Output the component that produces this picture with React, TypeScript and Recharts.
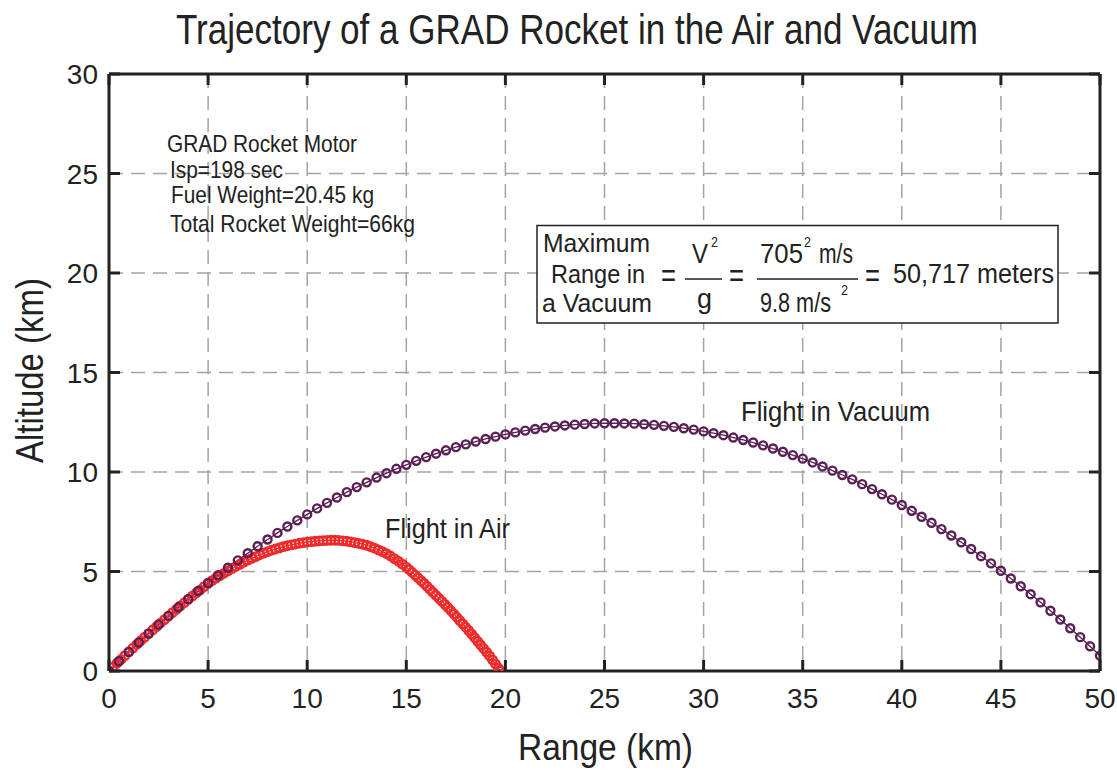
import React from 'react';
import { LineChart, Line, XAxis, YAxis, CartesianGrid } from 'recharts';

const xTicks = [0, 5, 10, 15, 20, 25, 30, 35, 40, 45, 50];
const yTicks = [0, 5, 10, 15, 20, 25, 30];

const vacX = [
  0, 0.5, 1, 1.5, 2, 2.5, 3, 3.5, 4, 4.5, 5, 5.5, 6, 6.5, 7, 7.5, 8, 8.5, 9, 9.5,
  10, 10.5, 11, 11.5, 12, 12.5, 13, 13.5, 14, 14.5, 15, 15.5, 16, 16.5, 17, 17.5, 18, 18.5, 19, 19.5,
  20, 20.5, 21, 21.5, 22, 22.5, 23, 23.5, 24, 24.5, 25, 25.5, 26, 26.5, 27, 27.5, 28, 28.5, 29, 29.5,
  30, 30.5, 31, 31.5, 32, 32.5, 33, 33.5, 34, 34.5, 35, 35.5, 36, 36.5, 37, 37.5, 38, 38.5, 39, 39.5,
  40, 40.5, 41, 41.5, 42, 42.5, 43, 43.5, 44, 44.5, 45, 45.5, 46, 46.5, 47, 47.5, 48, 48.5, 49, 49.5, 50,
];
const vacY = [
  0, 0.49, 0.96, 1.43, 1.88, 2.33, 2.77, 3.2, 3.61, 4.02, 4.42, 4.81, 5.19, 5.56, 5.92, 6.27, 6.61, 6.94, 7.26, 7.57,
  7.87, 8.17, 8.45, 8.72, 8.99, 9.24, 9.48, 9.72, 9.94, 10.16, 10.36, 10.56, 10.75, 10.92, 11.09, 11.25, 11.39, 11.53, 11.66, 11.78,
  11.89, 11.99, 12.08, 12.16, 12.23, 12.29, 12.34, 12.38, 12.41, 12.44, 12.45, 12.45, 12.44, 12.43, 12.4, 12.37, 12.32, 12.27, 12.2, 12.13,
  12.04, 11.95, 11.85, 11.73, 11.61, 11.48, 11.34, 11.18, 11.02, 10.85, 10.67, 10.48, 10.28, 10.07, 9.85, 9.63, 9.39, 9.14, 8.88, 8.61,
  8.34, 8.05, 7.75, 7.45, 7.13, 6.81, 6.47, 6.13, 5.77, 5.41, 5.04, 4.65, 4.26, 3.86, 3.45, 3.03, 2.59, 2.15, 1.7, 1.24, 0.77,
];

const airX = [
  0, 0.2, 0.4, 0.6, 0.8, 1, 1.2, 1.4, 1.6, 1.8, 2, 2.2, 2.4, 2.6, 2.8, 3, 3.2, 3.4, 3.6, 3.8,
  4, 4.2, 4.4, 4.6, 4.8, 5, 5.2, 5.4, 5.6, 5.8, 6, 6.2, 6.4, 6.6, 6.8, 7, 7.2, 7.4, 7.6, 7.8,
  8, 8.2, 8.4, 8.6, 8.8, 9, 9.2, 9.4, 9.6, 9.8, 10, 10.2, 10.4, 10.6, 10.8, 11, 11.2, 11.4, 11.6, 11.8,
  12, 12.2, 12.4, 12.6, 12.8, 13, 13.2, 13.4, 13.6, 13.8, 14, 14.2, 14.4, 14.6, 14.8, 15,
  15.15, 15.3, 15.45, 15.6, 15.75, 15.9, 16.05, 16.2, 16.35, 16.5, 16.65, 16.8, 16.95, 17.1, 17.25, 17.4,
  17.55, 17.7, 17.85, 18, 18.15, 18.3, 18.45, 18.6, 18.75, 18.9, 19.05, 19.2, 19.35, 19.5, 19.65, 19.75,
];
const airY = [
  0, 0.19, 0.39, 0.58, 0.77, 0.96, 1.15, 1.33, 1.52, 1.7, 1.88, 2.06, 2.23, 2.41, 2.58, 2.76, 2.93, 3.1, 3.27, 3.43,
  3.6, 3.76, 3.92, 4.07, 4.24, 4.4, 4.54, 4.67, 4.79, 4.91, 5.03, 5.14, 5.25, 5.36, 5.47, 5.57, 5.66, 5.75, 5.84, 5.92,
  6.0, 6.07, 6.13, 6.19, 6.25, 6.3, 6.34, 6.38, 6.42, 6.45, 6.48, 6.5, 6.52, 6.54, 6.55, 6.56, 6.57, 6.57, 6.56, 6.54,
  6.52, 6.49, 6.45, 6.41, 6.37, 6.32, 6.25, 6.17, 6.09, 6.0, 5.9, 5.78, 5.65, 5.52, 5.37, 5.22,
  5.09, 4.95, 4.82, 4.68, 4.54, 4.4, 4.25, 4.1, 3.95, 3.8, 3.65, 3.5, 3.35, 3.19, 3.03, 2.87,
  2.7, 2.53, 2.37, 2.2, 2.03, 1.85, 1.67, 1.49, 1.31, 1.13, 0.95, 0.76, 0.56, 0.36, 0.15, 0,
];

const vacData = vacX.map((x, i) => ({ x, y: vacY[i] }));
const airData = airX.map((x, i) => ({ x, y: airY[i] }));

const FONT = '"Liberation Sans Narrow", "Liberation Sans", Arial, sans-serif';
const TICKFONT = '"Liberation Sans Narrow", "Liberation Sans", Arial, sans-serif';
const INK = '#222';
const VAC = '#5a1f55';
const AIR = '#ee2b2b';

const BottomTick = (p: any) => (
  <g>
    <line x1={p.x} y1={p.y} x2={p.x} y2={p.y - 11} stroke={INK} strokeWidth={3} />
    <text x={p.x} y={p.y + 37} textAnchor="middle" fontSize={28} fontFamily={TICKFONT} fill={INK}>
      {p.payload.value}
    </text>
  </g>
);
const TopTick = (p: any) => (
  <line x1={p.x} y1={p.y} x2={p.x} y2={p.y + 11} stroke={INK} strokeWidth={3} />
);
const LeftTick = (p: any) => (
  <g>
    <line x1={p.x} y1={p.y} x2={p.x + 11} y2={p.y} stroke={INK} strokeWidth={3} />
    <text x={p.x - 11} y={p.y + 10} textAnchor="end" fontSize={28} fontFamily={TICKFONT} fill={INK}>
      {p.payload.value}
    </text>
  </g>
);
const RightTick = (p: any) => (
  <line x1={p.x} y1={p.y} x2={p.x - 11} y2={p.y} stroke={INK} strokeWidth={3} />
);

const T = ({ x, y, w, size, anchor = 'start', children }: any) => (
  <text
    x={x}
    y={y}
    fontSize={size}
    fontFamily={FONT}
    fill={INK}
    textAnchor={anchor}
    textLength={w}
    lengthAdjust="spacingAndGlyphs"
  >
    {children}
  </text>
);

export default function App() {
  return (
    <div style={{ position: 'absolute', left: 0, top: 0, width: 1117, height: 771, background: '#fff' }}>
      <LineChart
        width={1117}
        height={771}
        margin={{ top: 64, right: 7, bottom: 40, left: 49 }}
        style={{ position: 'absolute', left: 0, top: 0 }}
      >
        <CartesianGrid
          xAxisId="b"
          yAxisId="l"
          stroke="#a3a3a3"
          strokeWidth={1.5}
          strokeDasharray="14 8"
          horizontalValues={yTicks}
          verticalValues={xTicks}
        />
        <XAxis
          xAxisId="b"
          dataKey="x"
          type="number"
          domain={[0, 50]}
          ticks={xTicks}
          interval={0}
          height={60}
          tickSize={0}
          tickMargin={0}
          tick={BottomTick}
          axisLine={{ stroke: INK, strokeWidth: 3 }}
          allowDataOverflow
        />
        <XAxis
          xAxisId="t"
          orientation="top"
          dataKey="x"
          type="number"
          domain={[0, 50]}
          ticks={xTicks}
          interval={0}
          height={10}
          tickSize={0}
          tickMargin={0}
          tick={TopTick}
          axisLine={{ stroke: INK, strokeWidth: 3 }}
          allowDataOverflow
        />
        <YAxis
          yAxisId="l"
          type="number"
          domain={[0, 30]}
          ticks={yTicks}
          interval={0}
          width={60}
          tickSize={0}
          tickMargin={0}
          tick={LeftTick}
          axisLine={{ stroke: INK, strokeWidth: 3 }}
          allowDataOverflow
        />
        <YAxis
          yAxisId="r"
          orientation="right"
          type="number"
          domain={[0, 30]}
          ticks={yTicks}
          interval={0}
          width={10}
          tickSize={0}
          tickMargin={0}
          tick={RightTick}
          axisLine={{ stroke: INK, strokeWidth: 3 }}
          allowDataOverflow
        />
        <Line
          xAxisId="b"
          yAxisId="l"
          data={airData}
          dataKey="y"
          type="linear"
          stroke={AIR}
          strokeWidth={1.3}
          dot={{ r: 4.2, stroke: AIR, strokeWidth: 2.4, fill: 'none' }}
          isAnimationActive={false}
        />
        <Line
          xAxisId="b"
          yAxisId="l"
          data={vacData}
          dataKey="y"
          type="linear"
          stroke={VAC}
          strokeWidth={1.3}
          dot={{ r: 4, stroke: VAC, strokeWidth: 2.4, fill: 'none' }}
          isAnimationActive={false}
        />
      </LineChart>
      <svg
        width={1117}
        height={771}
        style={{ position: 'absolute', left: 0, top: 0, pointerEvents: 'none' }}
      >
        <T x={176} y={44} w={802} size={42}>Trajectory of a GRAD Rocket in the Air and Vacuum</T>
        <T x={518} y={760} w={175} size={36}>Range (km)</T>
        <g transform="translate(43,370.5) rotate(-90)">
          <T x={0} y={0} w={185} size={38} anchor="middle">Altitude (km)</T>
        </g>

        <T x={167} y={152} w={190} size={24}>GRAD Rocket Motor</T>
        <T x={170} y={178} w={113} size={24}>Isp=198 sec</T>
        <T x={171} y={203} w={203} size={24}>Fuel Weight=20.45 kg</T>
        <T x={170} y={232} w={245} size={24}>Total Rocket Weight=66kg</T>

        <T x={741} y={421} w={189} size={28}>Flight in Vacuum</T>
        <T x={385} y={538} w={125} size={28}>Flight in Air</T>

        <rect x={537} y={225.5} width={521} height={97.5} fill="#fff" stroke={INK} strokeWidth={1.5} />
        <T x={543} y={252} w={107} size={26}>Maximum</T>
        <T x={551} y={283} w={94} size={26}>Range in</T>
        <T x={542} y={312} w={110} size={26}>a Vacuum</T>
        <T x={661} y={287} w={15} size={34}>=</T>
        <T x={692} y={263} w={16} size={27}>V</T>
        <T x={711} y={247} w={7} size={15}>2</T>
        <line x1={685} y1={279} x2={722} y2={279} stroke={INK} strokeWidth={1.5} />
        <T x={697} y={308} w={15} size={27}>g</T>
        <T x={729} y={287} w={15} size={34}>=</T>
        <T x={760} y={263} w={43} size={27}>705</T>
        <T x={804} y={247} w={7} size={15}>2</T>
        <T x={819} y={263} w={34} size={27}>m/s</T>
        <line x1={757} y1={279} x2={858} y2={279} stroke={INK} strokeWidth={1.5} />
        <T x={760} y={312} w={71} size={27}>9.8 m/s</T>
        <T x={841} y={295} w={7} size={15}>2</T>
        <T x={865} y={287} w={15} size={34}>=</T>
        <T x={893} y={283} w={161} size={27}>50,717 meters</T>
      </svg>
    </div>
  );
}
